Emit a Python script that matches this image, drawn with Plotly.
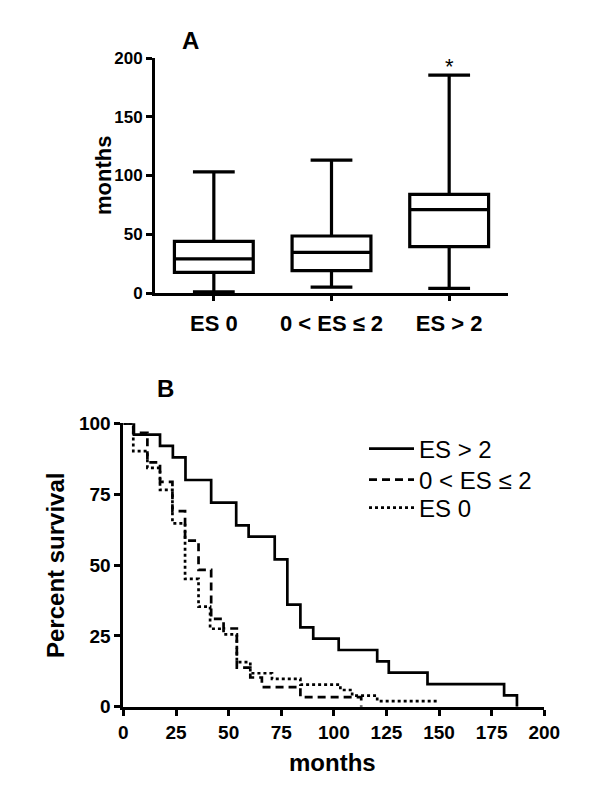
import plotly.graph_objects as go

W, H = 600, 788

# ---------- Panel A data (box plot, months) ----------
groups = ["ES 0", "0 < ES ≤ 2", "ES > 2"]
box_min = [1, 5, 4]
box_q1 = [17.5, 19, 39.5]
box_median = [29, 34.5, 71]
box_q3 = [44, 48.5, 84]
box_max = [103, 113, 185.5]

# ---------- Panel B data (Kaplan-Meier steps) ----------
es_high_t = [0, 5, 17.4, 23.5, 29.5, 41.7, 53.6, 59.5, 71.9, 77.9, 84.1, 90.2, 102.3, 120.6, 126.1, 144.5, 180.9, 187]
es_high_s = [100, 96, 92, 88, 80, 72, 64, 60, 52, 36, 28, 24, 20, 16, 12, 8, 4, 0]

es_mid_t = [0, 4.7, 11.4, 17.4, 23.3, 29.3, 35.7, 41.7, 47.6, 53.9, 60.3, 65.8, 84.1, 113]
es_mid_s = [100, 96.6, 86.2, 79.3, 69.0, 58.6, 48.3, 31.0, 27.6, 13.8, 10.3, 6.9, 3.4, 0]

es_zero_t = [0, 4.7, 11.4, 17.4, 23.3, 29.3, 35.7, 41.2, 47.6, 53.9, 60.3, 70.6, 84.1, 103.1, 108.7, 120.6, 150]
es_zero_s = [100, 90.2, 84.3, 76.5, 64.7, 45.1, 35.3, 27.5, 25.5, 15.7, 11.8, 9.8, 7.8, 5.9, 3.9, 2.0, 2.0]

legend_names = ["ES > 2", "0 < ES ≤ 2", "ES 0"]

FONT = "Liberation Sans, Arial, sans-serif"

def px_x(p):
    return p / W

def px_y(p):
    return 1 - p / H

fig = go.Figure()

fig.add_trace(go.Box(
    x=groups, q1=box_q1, median=box_median, q3=box_q3,
    lowerfence=box_min, upperfence=box_max,
    xaxis="x", yaxis="y",
    line=dict(color="black", width=3.2), fillcolor="white",
    whiskerwidth=0.53, width=0.67, boxpoints=False, showlegend=False,
    hoverinfo="skip",
))

fig.add_trace(go.Scatter(
    x=es_high_t, y=es_high_s, mode="lines", line=dict(color="black", width=2.7, shape="hv"),
    name=legend_names[0], xaxis="x2", yaxis="y2", legend="legend",
))
fig.add_trace(go.Scatter(
    x=es_mid_t, y=es_mid_s, mode="lines",
    line=dict(color="black", width=2.7, shape="hv", dash="8px,5px"),
    name=legend_names[1], xaxis="x2", yaxis="y2", legend="legend2",
))
fig.add_trace(go.Scatter(
    x=es_zero_t, y=es_zero_s, mode="lines",
    line=dict(color="black", width=2.7, shape="hv", dash="3px,3px"),
    name=legend_names[2], xaxis="x2", yaxis="y2", legend="legend3",
))

def tf(size):
    return dict(family=FONT, size=size, color="black", weight="bold")

axis_common = dict(
    showline=True, linecolor="black", linewidth=3, ticks="outside",
    tickwidth=3, tickcolor="black", showgrid=False, zeroline=False,
    fixedrange=True, automargin=False,
)

def leg(ycenter):
    return dict(x=px_x(364), y=px_y(ycenter), xanchor="left", yanchor="middle",
                bgcolor="rgba(0,0,0,0)", borderwidth=0,
                font=dict(family=FONT, size=24, color="black"),
                itemwidth=45)

def ann(text, x, y, size, angle=0):
    return dict(text=text, x=px_x(x), y=px_y(y), xref="paper", yref="paper",
                xanchor="center", yanchor="middle", textangle=angle, showarrow=False,
                font=dict(family=FONT, size=size, color="black"))

fig.update_layout(
    width=W, height=H,
    margin=dict(l=0, r=0, t=0, b=0, pad=0, autoexpand=False),
    paper_bgcolor="white", plot_bgcolor="white",
    font=dict(family=FONT, color="black"),
    showlegend=True,
    xaxis=dict(domain=[px_x(155), px_x(508)], anchor="y", type="category",
               range=[-0.5, 2.5], ticklen=5, tickfont=tf(22), ticklabelstandoff=4,
               **axis_common),
    yaxis=dict(domain=[px_y(293), px_y(58)], anchor="x", range=[0, 200], ticklen=6,
               tickvals=[0, 50, 100, 150, 200], tickfont=tf(17), **axis_common),
    xaxis2=dict(domain=[px_x(123.4), px_x(544.3)], anchor="y2", range=[0, 200], ticklen=6,
                tickvals=[0, 25, 50, 75, 100, 125, 150, 175, 200], tickfont=tf(19),
                **axis_common),
    yaxis2=dict(domain=[px_y(706.7), px_y(423.3)], anchor="x2", range=[0, 100], ticklen=6,
                tickvals=[0, 25, 50, 75, 100], tickfont=tf(19), **axis_common),
    legend=leg(449),
    legend2=leg(480),
    legend3=leg(508),
    annotations=[
        ann("<b>A</b>", 190, 40, 24),
        ann("<b>B</b>", 165, 388, 24),
        ann("<b>months</b>", 103, 176, 22, -90),
        ann("<b>Percent survival</b>", 55, 565, 24, -90),
        ann("<b>months</b>", 332, 762, 24),
        dict(text="*", x="ES > 2", y=box_max[2], xref="x", yref="y",
             xanchor="center", yanchor="bottom",
             yshift=-6, showarrow=False, font=dict(family=FONT, size=22, color="black")),
    ],
)

fig.write_html(
    "out.html",
    config={"displayModeBar": False},
    post_script="document.body.style.margin='0';document.body.style.overflow='hidden';",
)
